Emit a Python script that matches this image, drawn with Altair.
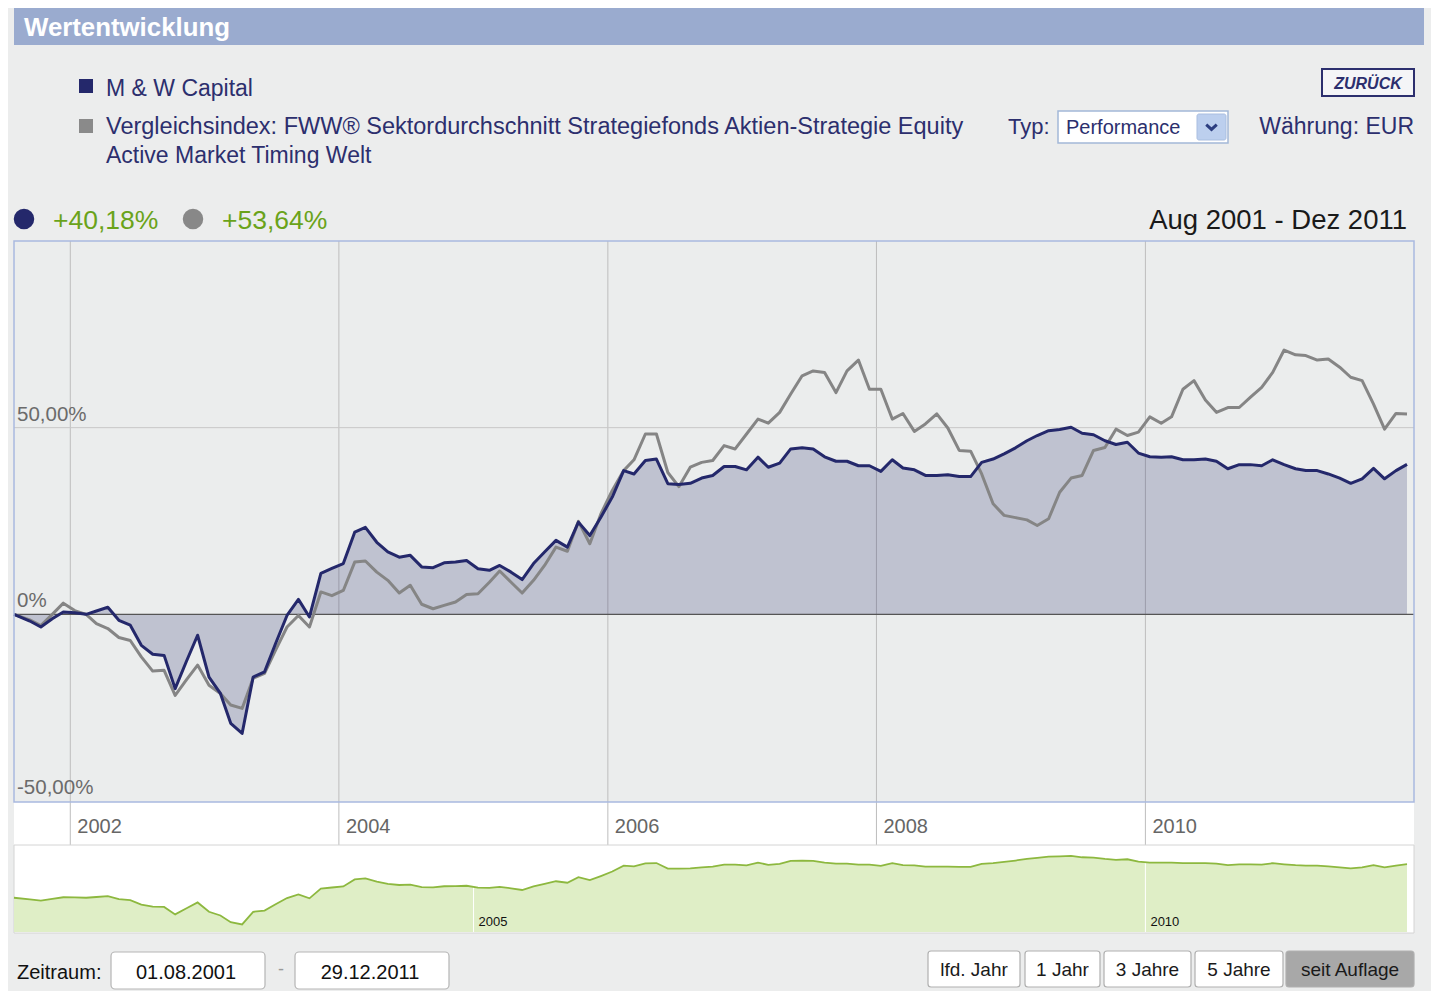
import altair as alt
import pandas as pd

# ---------------- data ----------------
fund = [0, -1.8, -3.4, -1.2, 0.6, 0.4, 0, 0.9, 1.9, -1.6,
        -2.9, -8.3, -10.7, -11, -19.9, -12.5, -5.6, -16.8, -21.2, -29.2,
        -31.9, -16.8, -15.4, -7.8, -0.3, 4, -0.7, 11, 12.3, 13.6,
        22, 23.3, 19.3, 16.7, 15.3, 15.8, 12.7, 12.5, 13.8, 14,
        14.4, 12.2, 11.8, 13.1, 11.3, 9.3, 13.6, 16.7, 19.8, 18,
        24.7, 21.1, 26, 31.4, 38.5, 37.6, 41.2, 41.6, 35, 34.8,
        35.1, 36.5, 37.2, 39.6, 39.6, 38.7, 42.1, 39.4, 40.5, 44.3,
        44.6, 44.3, 42.2, 41, 41, 39.8, 39.8, 38.3, 41.4, 39.2,
        38.7, 37.2, 37.2, 37.4, 36.9, 36.9, 40.7, 41.6, 43, 44.6,
        46.5, 47.9, 49.2, 49.5, 50.1, 48.5, 48.1, 46.5, 45.5, 46.1,
        43.2, 42.2, 42.1, 42.2, 41.4, 41.4, 41.6, 41, 39, 40.1,
        40.1, 39.8, 41.4, 40.1, 39, 38.5, 38.5, 37.6, 36.5, 35.1,
        36.3, 39.1, 36.3, 38.5, 40.18]
bench = [0, -1.5, -3, 0, 3, 1, 0, -2.5, -3.8, -6.2,
         -7, -11.4, -15.2, -15, -21.7, -17.5, -13.6, -19, -21.2, -24.3,
         -25.2, -17.1, -15.8, -9.6, -3.4, -0.3, -3.4, 6, 5, 6.4,
         14, 14.3, 11.3, 9.1, 5.7, 7.8, 2.7, 1.5, 2.4, 3.3,
         5.3, 5.5, 8.6, 11.6, 8.6, 5.7, 9.1, 13.1, 18, 16.9,
         24.9, 18.9, 26.9, 33.2, 38.5, 41.4, 48.3, 48.3, 38, 34.2,
         39.4, 40.7, 41.2, 45.2, 44.3, 48.3, 52.3, 51.2, 54.1, 59,
         63.9, 65.2, 64.8, 59.4, 65.2, 68.1, 60.3, 60.3, 52.3, 53.8,
         49, 51, 53.7, 49.9, 43.9, 43.7, 37.6, 29.6, 26.5, 25.9,
         25.3, 23.8, 25.6, 32.7, 36.5, 37.2, 43.9, 44.7, 49.6, 47.9,
         48.8, 52.9, 51.2, 52.9, 60.3, 62.6, 57.4, 54.1, 55.4, 55.4,
         58.1, 60.8, 64.8, 70.8, 69.5, 69.3, 68.1, 68.4, 66.2, 63.5,
         62.6, 56.3, 49.6, 53.8, 53.64]

month_starts = pd.date_range("2001-08-01", periods=len(fund), freq="MS")
dates = ["2001-08-01"] + [d.strftime("%Y-%m") + "-13" for d in month_starts[1:]]

year_ticks = ["2002-01-01", "2004-01-01", "2006-01-01", "2008-01-01", "2010-01-01"]
year_labels = ["2002", "2004", "2006", "2008", "2010"]
nav_ticks = ["2005-01-01", "2010-01-01"]
nav_labels = ["2005", "2010"]
y_ticks = [50, 0, -50]
y_labels = ["50,00%", "0%", "-50,00%"]

df = pd.DataFrame({"date": dates, "fund": fund, "bench": bench})
xt_df = pd.DataFrame({"date": year_ticks, "label": year_labels})
nt_df = pd.DataFrame({"date": nav_ticks, "label": nav_labels})
yt_df = pd.DataFrame({"v": y_ticks, "label": y_labels})
one = pd.DataFrame({"k": [0]})

# ---------------- style ----------------
OFF = 8
FONT = "Liberation Sans"
NAVY = "#24286B"
NAVY_TXT = "#2C2F6E"
GRAY = "#858585"
GREEN_TXT = "#6AA31A"


def P(v):
    return v - OFF


def box(x0, y0, x1, y1, fill, stroke=None, sw=1.0, r=0):
    kw = dict(fill=fill, cornerRadius=r, opacity=1)
    if stroke:
        kw.update(stroke=stroke, strokeWidth=sw)
    return alt.Chart(one).mark_rect(**kw).encode(
        x=alt.value(P(x0)), x2=alt.value(P(x1)),
        y=alt.value(P(y0)), y2=alt.value(P(y1)))


def txt(s, x, y, size, color, align="left", weight="normal", style="normal"):
    return alt.Chart(one).mark_text(
        text=s, align=align, baseline="alphabetic", fontSize=size, color=color,
        fontWeight=weight, fontStyle=style, font=FONT).encode(
        x=alt.value(P(x)), y=alt.value(P(y)))


def dot(x, y, size, color):
    return alt.Chart(one).mark_point(
        shape="circle", filled=True, size=size, color=color, opacity=1).encode(
        x=alt.value(P(x)), y=alt.value(P(y)))


# ---------------- scales ----------------
xscale = alt.Scale(type="utc",
                   domain=[alt.DateTime(year=2001, month=8, date=1, utc=True),
                           alt.DateTime(year=2012, month=1, date=1, utc=True)],
                   range=[P(14), P(1414)])
yscale = alt.Scale(domain=[-50, 100], range=[P(801), P(241)], zero=False, nice=False)
nyscale = alt.Scale(domain=[-41, 62], range=[P(932), P(846)], zero=False, nice=False)

X = alt.X("date:T", scale=xscale, axis=None)

# ---------------- main chart ----------------
area = alt.Chart(df).mark_area(color=NAVY, opacity=0.22).encode(
    x=X, y=alt.Y("fund:Q", scale=yscale, axis=None), y2=alt.datum(0))
vgrid = alt.Chart(xt_df).mark_rule(color="#BDBDBD", strokeWidth=1).encode(
    x=X, y=alt.value(P(241)), y2=alt.value(P(845)))
hgrid = alt.Chart(yt_df).transform_filter("datum.v == 50").mark_rule(
    color="#C8C8C8", strokeWidth=1).encode(
    y=alt.Y("v:Q", scale=yscale, axis=None), x=alt.value(P(14)), x2=alt.value(P(1414)))
zero = alt.Chart(yt_df).transform_filter("datum.v == 0").mark_rule(
    color="#555555", strokeWidth=1.3).encode(
    y=alt.Y("v:Q", scale=yscale, axis=None), x=alt.value(P(14)), x2=alt.value(P(1414)))
bline = alt.Chart(df).mark_line(color=GRAY, strokeWidth=3, strokeJoin="round").encode(
    x=X, y=alt.Y("bench:Q", scale=yscale, axis=None))
fline = alt.Chart(df).mark_line(color=NAVY, strokeWidth=3, strokeJoin="round").encode(
    x=X, y=alt.Y("fund:Q", scale=yscale, axis=None))
ylab = alt.Chart(yt_df).mark_text(
    align="left", baseline="alphabetic", dy=-7, fontSize=20.5, color="#6B6B6B", font=FONT).encode(
    x=alt.value(P(17)), y=alt.Y("v:Q", scale=yscale, axis=None), text="label:N")
xlab = alt.Chart(xt_df).mark_text(
    align="left", baseline="alphabetic", dx=7, fontSize=20, color="#666666", font=FONT).encode(
    x=X, y=alt.value(P(833)), text="label:N")

main = alt.layer(
    box(14, 241, 1414, 802, "#EBEDED"),
    box(14, 802, 1414, 845, "#FFFFFF"),
    vgrid, hgrid, area, zero, bline, fline, ylab, xlab,
    box(14, 241, 1414, 802, "transparent", stroke="#A9B9DF", sw=1.5),
)

# ---------------- navigator ----------------
narea = alt.Chart(df).mark_area(color="#DFEEC6", opacity=1).encode(
    x=X, y=alt.Y("fund:Q", scale=nyscale, axis=None), y2=alt.datum(-41))
nline = alt.Chart(df).mark_line(color="#8DB83F", strokeWidth=1.8).encode(
    x=X, y=alt.Y("fund:Q", scale=nyscale, axis=None))
ngrid = alt.Chart(nt_df).mark_rule(color="#FFFFFF", strokeWidth=1).encode(
    x=X, y=alt.value(P(846)), y2=alt.value(P(932)))
nlab = alt.Chart(nt_df).mark_text(
    align="left", baseline="alphabetic", dx=5, fontSize=13, color="#111111",
    font=FONT).encode(
    x=X, y=alt.value(P(926)), text="label:N")

nav = alt.layer(
    box(14, 845, 1414, 933, "#FFFFFF", stroke="#D4D4D4", sw=1),
    narea, ngrid, nline, nlab,
)

# ---------------- decorations ----------------
header = [
    box(14, 8, 1424, 45, "#9AABCF"),
    txt("Wertentwicklung", 24, 36, 25.8, "#FFFFFF", weight="bold"),
    box(79, 79, 93, 93, NAVY),
    txt("M & W Capital", 106, 96, 23, NAVY_TXT),
    box(79, 119, 93, 133, "#8A8A8A"),
    txt("Vergleichsindex: FWW\u00ae Sektordurchschnitt Strategiefonds Aktien-Strategie Equity",
        106, 134, 23.5, NAVY_TXT),
    txt("Active Market Timing Welt", 106, 163, 23, NAVY_TXT),
    box(1322, 69, 1414, 96, "#F4F5F7", stroke="#2C2F6E", sw=2),
    txt("ZUR\u00dcCK", 1368, 89, 16, "#2C2F6E", align="center", weight="bold", style="italic"),
    txt("Typ:", 1008, 134, 22, NAVY_TXT),
    box(1058, 111, 1228, 143, "#FFFFFF", stroke="#A3B8D8", sw=1.5),
    txt("Performance", 1066, 134, 20, NAVY_TXT),
    box(1197, 114, 1226, 140, "#BCCFEE", stroke="#A9BEE0", sw=1, r=2),
    alt.Chart(one).mark_point(shape="M-1,-0.45L0,0.45L1,-0.45", filled=False,
                              size=110, strokeWidth=3, color="#2C3E80", opacity=1).encode(
        x=alt.value(P(1211.5)), y=alt.value(P(127))),
    txt("W\u00e4hrung: EUR", 1414, 134, 23, NAVY_TXT, align="right"),
    dot(24, 219, 420, NAVY),
    txt("+40,18%", 53, 229, 26.5, GREEN_TXT),
    dot(193, 219, 420, "#888888"),
    txt("+53,64%", 222, 229, 26.5, GREEN_TXT),
    txt("Aug 2001 - Dez 2011", 1407, 229, 27.5, "#1A1A1A", align="right"),
]

footer = [
    txt("Zeitraum:", 17, 979, 20, "#111111"),
    box(111, 952, 265, 989, "#FFFFFF", stroke="#B5B5B5", sw=1.2, r=4),
    txt("01.08.2001", 186, 979, 20, "#111111", align="center"),
    txt("-", 281, 975, 18, "#9A9A9A", align="center"),
    box(295, 952, 449, 989, "#FFFFFF", stroke="#B5B5B5", sw=1.2, r=4),
    txt("29.12.2011", 370, 979, 20, "#111111", align="center"),
]
buttons = [("lfd. Jahr", 928, 1020, "#FFFFFF"), ("1 Jahr", 1025, 1100, "#FFFFFF"),
           ("3 Jahre", 1104, 1191, "#FFFFFF"), ("5 Jahre", 1195, 1283, "#FFFFFF"),
           ("seit Auflage", 1286, 1414, "#A8A8A8")]
for label, x0, x1, fill in buttons:
    footer.append(box(x0, 951, x1, 987, fill, stroke="#B0B0B0", sw=1.2, r=3))
    footer.append(txt(label, (x0 + x1) / 2, 976, 19, "#1A1A1A", align="center"))

chart = alt.layer(*header, main, nav, *footer).resolve_scale(
    x="independent", y="independent"
).properties(
    width=1423, height=983, padding=0,
    autosize=alt.AutoSizeParams(type="none"),
    background="#ECEDED",
).configure_view(stroke=None)

chart.save("out.html", embed_options={"renderer": "svg", "actions": False})
